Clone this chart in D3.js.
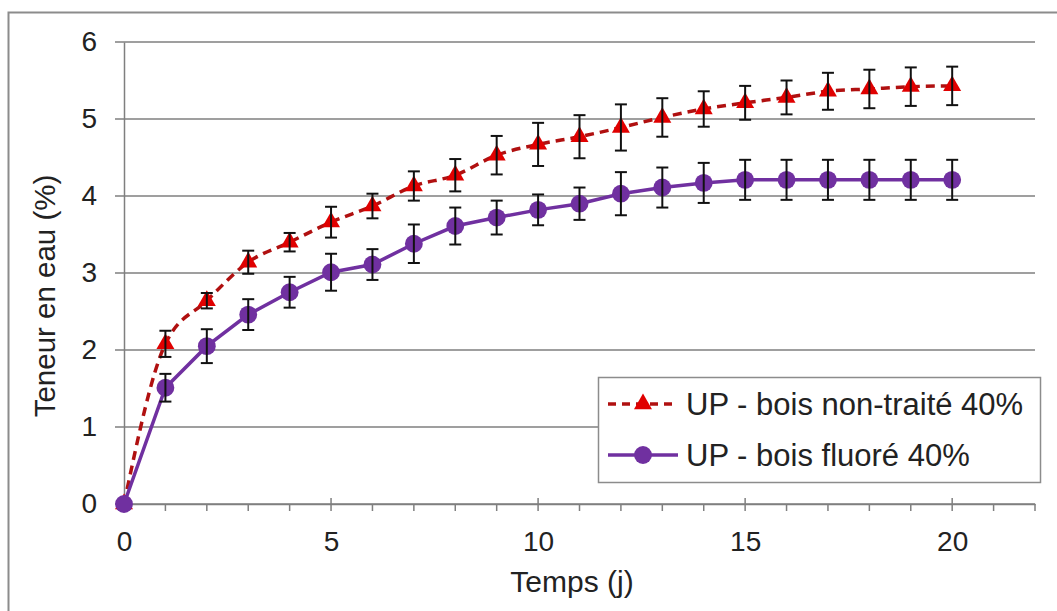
<!DOCTYPE html>
<html>
<head>
<meta charset="utf-8">
<script src="https://cdn.jsdelivr.net/npm/d3@7"></script>
<style>
  body { margin: 0; background: #fff; }
  svg text { font-family: "Liberation Sans", Arial, sans-serif; fill: #222; }
</style>
</head>
<body>
<div id="chart"></div>
<script>
// values
var days = [0, 1, 2, 3, 4, 5, 6, 7, 8, 9, 10, 11, 12, 13, 14, 15, 16, 17, 18, 19, 20];
var untreated = [0, 2.08, 2.64, 3.14, 3.4, 3.66, 3.87, 4.13, 4.27, 4.53, 4.67, 4.77, 4.89, 5.02, 5.13, 5.21, 5.28, 5.36, 5.39, 5.42, 5.43];
var untreatedErr = [0, 0.17, 0.1, 0.15, 0.12, 0.2, 0.16, 0.19, 0.21, 0.25, 0.28, 0.28, 0.3, 0.25, 0.23, 0.22, 0.22, 0.24, 0.25, 0.25, 0.25];
var fluorinated = [0, 1.51, 2.05, 2.46, 2.75, 3.01, 3.11, 3.38, 3.61, 3.72, 3.82, 3.9, 4.03, 4.11, 4.17, 4.21, 4.21, 4.21, 4.21, 4.21, 4.21];
var fluorinatedErr = [0, 0.18, 0.22, 0.2, 0.2, 0.24, 0.2, 0.25, 0.24, 0.22, 0.2, 0.21, 0.28, 0.26, 0.26, 0.26, 0.26, 0.26, 0.26, 0.26, 0.26];
var yTicks = [0, 1, 2, 3, 4, 5, 6];
var xTicks = [0, 5, 10, 15, 20];
var seriesNames = ["UP - bois non-traité 40%", "UP - bois fluoré 40%"];

var width = 1057
var height = 611

var svg = d3.select("#chart")
    .append("svg")
    .attr("width", width)
    .attr("height", height)

// outer frame (right and bottom edges are cut off in the original)
svg.append("path")
    .attr("d", "M8.5," + height + "V12.5H" + width)
    .attr("fill", "none")
    .attr("stroke", "#8c8c8c")
    .attr("stroke-width", 2)

var x = d3.scaleLinear().domain([0, 22]).range([124, 1035])
var y = d3.scaleLinear().domain([0, 6]).range([504, 42])

var gray = "#7f7f7f"

// gridlines
svg.append("g")
    .selectAll("line")
    .data(yTicks)
    .enter()
    .append("line")
    .attr("x1", x(0) - 9)
    .attr("x2", x(22))
    .attr("y1", d => y(d))
    .attr("y2", d => y(d))
    .attr("stroke", gray)
    .attr("stroke-width", 1.5)

// y axis
var yAxis = svg.append("g")
    .attr("transform", "translate(" + x(0) + ",0)")
    .call(d3.axisLeft(y).tickValues(yTicks).tickSize(0).tickPadding(27).tickFormat(d3.format("d")))
yAxis.select(".domain").attr("stroke", gray).attr("stroke-width", 1.5)
yAxis.selectAll("text").style("font-size", "28px").attr("fill", "#222")

// x axis: minor ticks every day, major every 5
var xAxis = svg.append("g")
    .attr("transform", "translate(0," + y(0) + ")")
    .call(d3.axisBottom(x).tickValues(xTicks).tickSize(0).tickPadding(27).tickFormat(d3.format("d")))
xAxis.select(".domain").attr("stroke", gray).attr("stroke-width", 1.5)
xAxis.selectAll("text").style("font-size", "28px").attr("fill", "#222")

svg.append("g")
    .selectAll("line")
    .data(d3.range(1, 23))
    .enter()
    .append("line")
    .attr("x1", d => x(d))
    .attr("x2", d => x(d))
    .attr("y1", d => d % 5 == 0 ? y(0) - 6 : y(0))
    .attr("y2", y(0) + 7)
    .attr("stroke", gray)
    .attr("stroke-width", 1.5)

// axis titles
svg.append("text")
    .attr("x", 572)
    .attr("y", 592)
    .attr("text-anchor", "middle")
    .style("font-size", "30px")
    .text("Temps (j)")

svg.append("text")
    .attr("transform", "translate(55,296) rotate(-90)")
    .attr("text-anchor", "middle")
    .style("font-size", "29.5px")
    .text("Teneur en eau (%)")

var series = [
    { name: seriesNames[0], values: untreated, err: untreatedErr, line: "#b01010", mark: "#e00000", dash: "9,6", shape: d3.symbolTriangle, curve: d3.curveMonotoneX },
    { name: seriesNames[1], values: fluorinated, err: fluorinatedErr, line: "#7030a0", mark: "#7030a0", dash: null, shape: d3.symbolCircle, curve: d3.curveLinear }
]

series.forEach(s => {
    var pts = days.map((d, i) => ({ day: d, v: s.values[i], e: s.err[i] }))

    var line = d3.line()
        .x(d => x(d.day))
        .y(d => y(d.v))
        .curve(s.curve)

    svg.append("path")
        .datum(pts)
        .attr("d", line)
        .attr("fill", "none")
        .attr("stroke", s.line)
        .attr("stroke-width", 3.5)
        .attr("stroke-dasharray", s.dash)

    var symSize = s.shape == d3.symbolCircle ? 250 : 140
    svg.append("g")
        .selectAll("path")
        .data(pts)
        .enter()
        .append("path")
        .attr("transform", d => "translate(" + x(d.day) + "," + y(d.v) + ")")
        .attr("d", d3.symbol().type(s.shape).size(symSize))
        .attr("fill", s.mark)

    // error bars
    var bars = svg.append("g")
        .selectAll("g")
        .data(pts.filter(d => d.e > 0))
        .enter()
        .append("g")
        .attr("stroke", "#111")
        .attr("stroke-width", 2)
    bars.append("line")
        .attr("x1", d => x(d.day)).attr("x2", d => x(d.day))
        .attr("y1", d => y(d.v - d.e)).attr("y2", d => y(d.v + d.e))
    bars.append("line")
        .attr("x1", d => x(d.day) - 6).attr("x2", d => x(d.day) + 6)
        .attr("y1", d => y(d.v + d.e)).attr("y2", d => y(d.v + d.e))
    bars.append("line")
        .attr("x1", d => x(d.day) - 6).attr("x2", d => x(d.day) + 6)
        .attr("y1", d => y(d.v - d.e)).attr("y2", d => y(d.v - d.e))
})

// legend
var legend = svg.append("g")
legend.append("rect")
    .attr("x", 598.5)
    .attr("y", 377.5)
    .attr("width", 442)
    .attr("height", 105)
    .attr("fill", "#fff")
    .attr("stroke", "#8c8c8c")
    .attr("stroke-width", 1.5)

series.forEach((s, i) => {
    var cy = 404 + i * 51
    legend.append("line")
        .attr("x1", 608).attr("x2", 678)
        .attr("y1", cy).attr("y2", cy)
        .attr("stroke", s.line)
        .attr("stroke-width", 3.5)
        .attr("stroke-dasharray", s.dash ? "8,6" : null)
    legend.append("path")
        .attr("transform", "translate(643," + cy + ")")
        .attr("d", d3.symbol().type(s.shape).size(s.shape == d3.symbolCircle ? 250 : 140))
        .attr("fill", s.mark)
    legend.append("text")
        .attr("x", 686)
        .attr("y", cy + 11)
        .style("font-size", "31px")
        .text(s.name)
})
</script>
</body>
</html>
